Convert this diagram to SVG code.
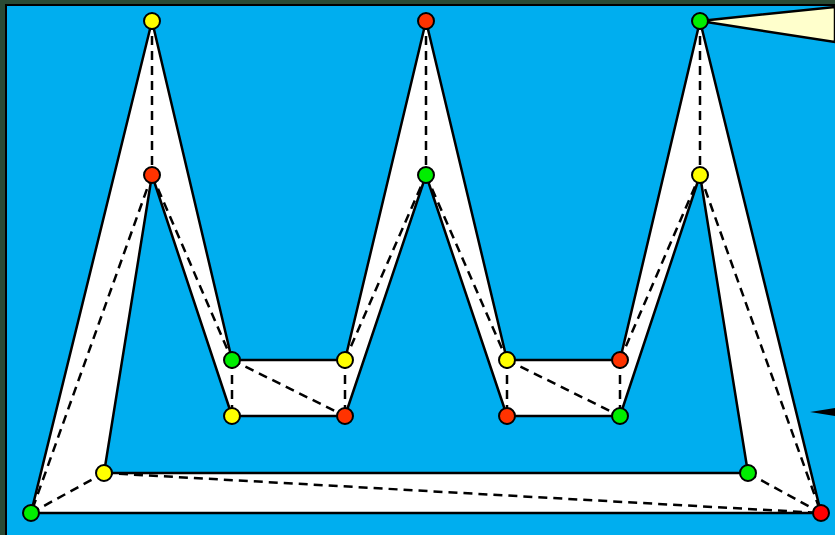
<svg xmlns="http://www.w3.org/2000/svg" width="835" height="535" viewBox="0 0 835 535">
<style>
.n{stroke:#000;stroke-width:2}
.y{fill:#ffff00}.g{fill:#00ee00}.r{fill:#ff3300}.rr{fill:#ff0000}
.d{stroke:#000;stroke-width:2.5;stroke-dasharray:9,6;fill:none}
</style>
<rect x="0" y="0" width="835" height="535" fill="#2a4a34"/>
<rect x="6" y="5" width="840" height="540" fill="#00aeef" stroke="#000" stroke-width="2"/>
<g id="callout1"><polygon points="700,21 835,7 835,42" fill="#ffffcc" stroke="#000" stroke-width="2.5"/></g>
<g id="callout2"><polygon points="810,412 835,408 835,416" fill="#000"/></g>
<g id="shape">
<path fill-rule="evenodd" fill="#fff" stroke="#000" stroke-width="2.5" stroke-linejoin="round" d="M31,513 L152,21 L232,360 L345,360 L426,21 L507,360 L620,360 L700,21 L821,513 Z M104,473 L152,175 L232,416 L345,416 L426,175 L507,416 L620,416 L700,175 L748,473 Z"/>
</g>
<g id="connectors">
<path class="d" d="M152,21 L152,175 M152,175 L31,513 M152,175 L232,360 M232,360 L232,416 M232,360 L345,416 M345,360 L345,416 M345,360 L426,175 M426,21 L426,175 M426,175 L507,360 M507,360 L507,416 M507,360 L620,416 M620,360 L620,416 M620,360 L700,175 M700,21 L700,175 M700,175 L821,513 M748,473 L821,513 M104,473 L821,513 M31,513 L104,473"/>
</g>
<g id="n1"><circle class="n y" cx="152" cy="21" r="8"/></g>
<g id="n2"><circle class="n r" cx="426" cy="21" r="8"/></g>
<g id="n3"><circle class="n g" cx="700" cy="21" r="8"/></g>
<g id="n4"><circle class="n r" cx="152" cy="175" r="8"/></g>
<g id="n5"><circle class="n g" cx="426" cy="175" r="8"/></g>
<g id="n6"><circle class="n y" cx="700" cy="175" r="8"/></g>
<g id="n7"><circle class="n g" cx="232" cy="360" r="8"/></g>
<g id="n8"><circle class="n y" cx="345" cy="360" r="8"/></g>
<g id="n9"><circle class="n y" cx="232" cy="416" r="8"/></g>
<g id="n10"><circle class="n r" cx="345" cy="416" r="8"/></g>
<g id="n11"><circle class="n y" cx="507" cy="360" r="8"/></g>
<g id="n12"><circle class="n r" cx="620" cy="360" r="8"/></g>
<g id="n13"><circle class="n r" cx="507" cy="416" r="8"/></g>
<g id="n14"><circle class="n g" cx="620" cy="416" r="8"/></g>
<g id="n15"><circle class="n y" cx="104" cy="473" r="8"/></g>
<g id="n16"><circle class="n g" cx="748" cy="473" r="8"/></g>
<g id="n17"><circle class="n g" cx="31" cy="513" r="8"/></g>
<g id="n18"><circle class="n rr" cx="821" cy="513" r="8"/></g>
</svg>
